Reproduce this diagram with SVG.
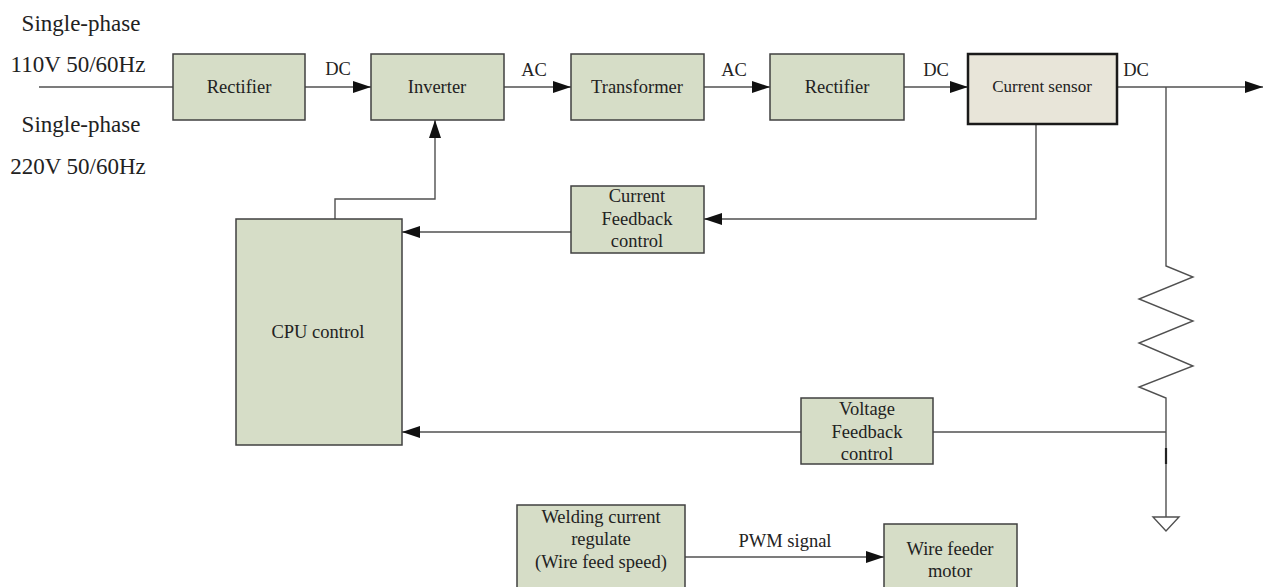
<svg xmlns="http://www.w3.org/2000/svg" width="1264" height="587" viewBox="0 0 1264 587">
<style>
.box{fill:#d6ddc7;stroke:#404040;stroke-width:1.5}
.sensor{fill:#e8e5d9;stroke:#1a1a1a;stroke-width:2.5}
.t{font-family:"Liberation Serif","Times New Roman",serif;font-size:18.5px;fill:#222;text-anchor:middle}
.s{font-size:17px}
.big{font-size:23px}
.ln{fill:none;stroke:#505050;stroke-width:1.4}
.arr{marker-end:url(#ah)}
</style>
<defs>
<marker id="ah" viewBox="0 0 18 12" refX="18" refY="6" markerWidth="18" markerHeight="12" markerUnits="userSpaceOnUse" orient="auto">
<path d="M0,0 L18,6 L0,12 Z" fill="#111"/>
</marker>
</defs>
<rect width="1264" height="587" fill="#fff"/>
<g id="connectors">
<path class="ln" d="M39,87 H173"/>
<path class="ln arr" d="M305,87 H371"/>
<path class="ln arr" d="M504,87 H571"/>
<path class="ln arr" d="M704,87 H770"/>
<path class="ln arr" d="M904,87 H968"/>
<path class="ln arr" d="M1117,87 H1263"/>
<path class="ln" d="M1166,87 V266 L1193,277 L1139,299 L1193,321 L1139,343 L1193,366 L1139,387 L1166,398 V517"/>
<path class="ln" d="M1153,517 H1179 L1166,531 Z"/>
<path d="M1166,448 V464" stroke="#222" stroke-width="2.2"/>
<path class="ln arr" d="M1036,124 V219 H704"/>
<path class="ln arr" d="M571,232 H402"/>
<path class="ln" d="M1166,432 H933"/>
<path class="ln arr" d="M801,432 H402"/>
<path class="ln arr" d="M335,219 V199 H435 V120"/>
<path class="ln arr" d="M685,557 H884"/>
</g>
<g id="labels">
<text class="t big" x="81" y="31">Single-phase</text>
<text class="t big" x="78" y="72">110V 50/60Hz</text>
<text class="t big" x="81" y="132">Single-phase</text>
<text class="t big" x="78" y="174">220V 50/60Hz</text>
<text class="t" x="338" y="75">DC</text>
<text class="t" x="534" y="76">AC</text>
<text class="t" x="734" y="76">AC</text>
<text class="t" x="936" y="76">DC</text>
<text class="t" x="1136" y="76">DC</text>
<text class="t" x="785" y="547">PWM signal</text>
</g>
<g id="rectifier1"><rect class="box" x="173" y="54" width="132" height="66"/><text class="t" x="239" y="93">Rectifier</text></g>
<g id="inverter"><rect class="box" x="371" y="54" width="133" height="66"/><text class="t" x="437" y="93">Inverter</text></g>
<g id="transformer"><rect class="box" x="571" y="54" width="133" height="66"/><text class="t" x="637" y="93">Transformer</text></g>
<g id="rectifier2"><rect class="box" x="770" y="54" width="134" height="66"/><text class="t" x="837" y="93">Rectifier</text></g>
<g id="current-sensor"><rect class="sensor" x="968" y="54" width="149" height="70"/><text class="t s" x="1042" y="92">Current sensor</text></g>
<g id="current-feedback"><rect class="box" x="571" y="186" width="133" height="67"/><text class="t" x="637" y="202">Current</text><text class="t" x="637" y="225">Feedback</text><text class="t" x="637" y="247">control</text></g>
<g id="cpu"><rect class="box" x="236" y="219" width="166" height="226"/><text class="t" x="318" y="338">CPU control</text></g>
<g id="voltage-feedback"><rect class="box" x="801" y="398" width="132" height="66"/><text class="t" x="867" y="415">Voltage</text><text class="t" x="867" y="438">Feedback</text><text class="t" x="867" y="460">control</text></g>
<g id="welding"><rect class="box" x="517" y="505" width="168" height="90"/><text class="t" x="601" y="523">Welding current</text><text class="t" x="601" y="545">regulate</text><text class="t" x="601" y="568">(Wire feed speed)</text></g>
<g id="wire-feeder"><rect class="box" x="884" y="524" width="133" height="70"/><text class="t" x="950" y="555">Wire feeder</text><text class="t" x="950" y="577">motor</text></g>
</svg>
